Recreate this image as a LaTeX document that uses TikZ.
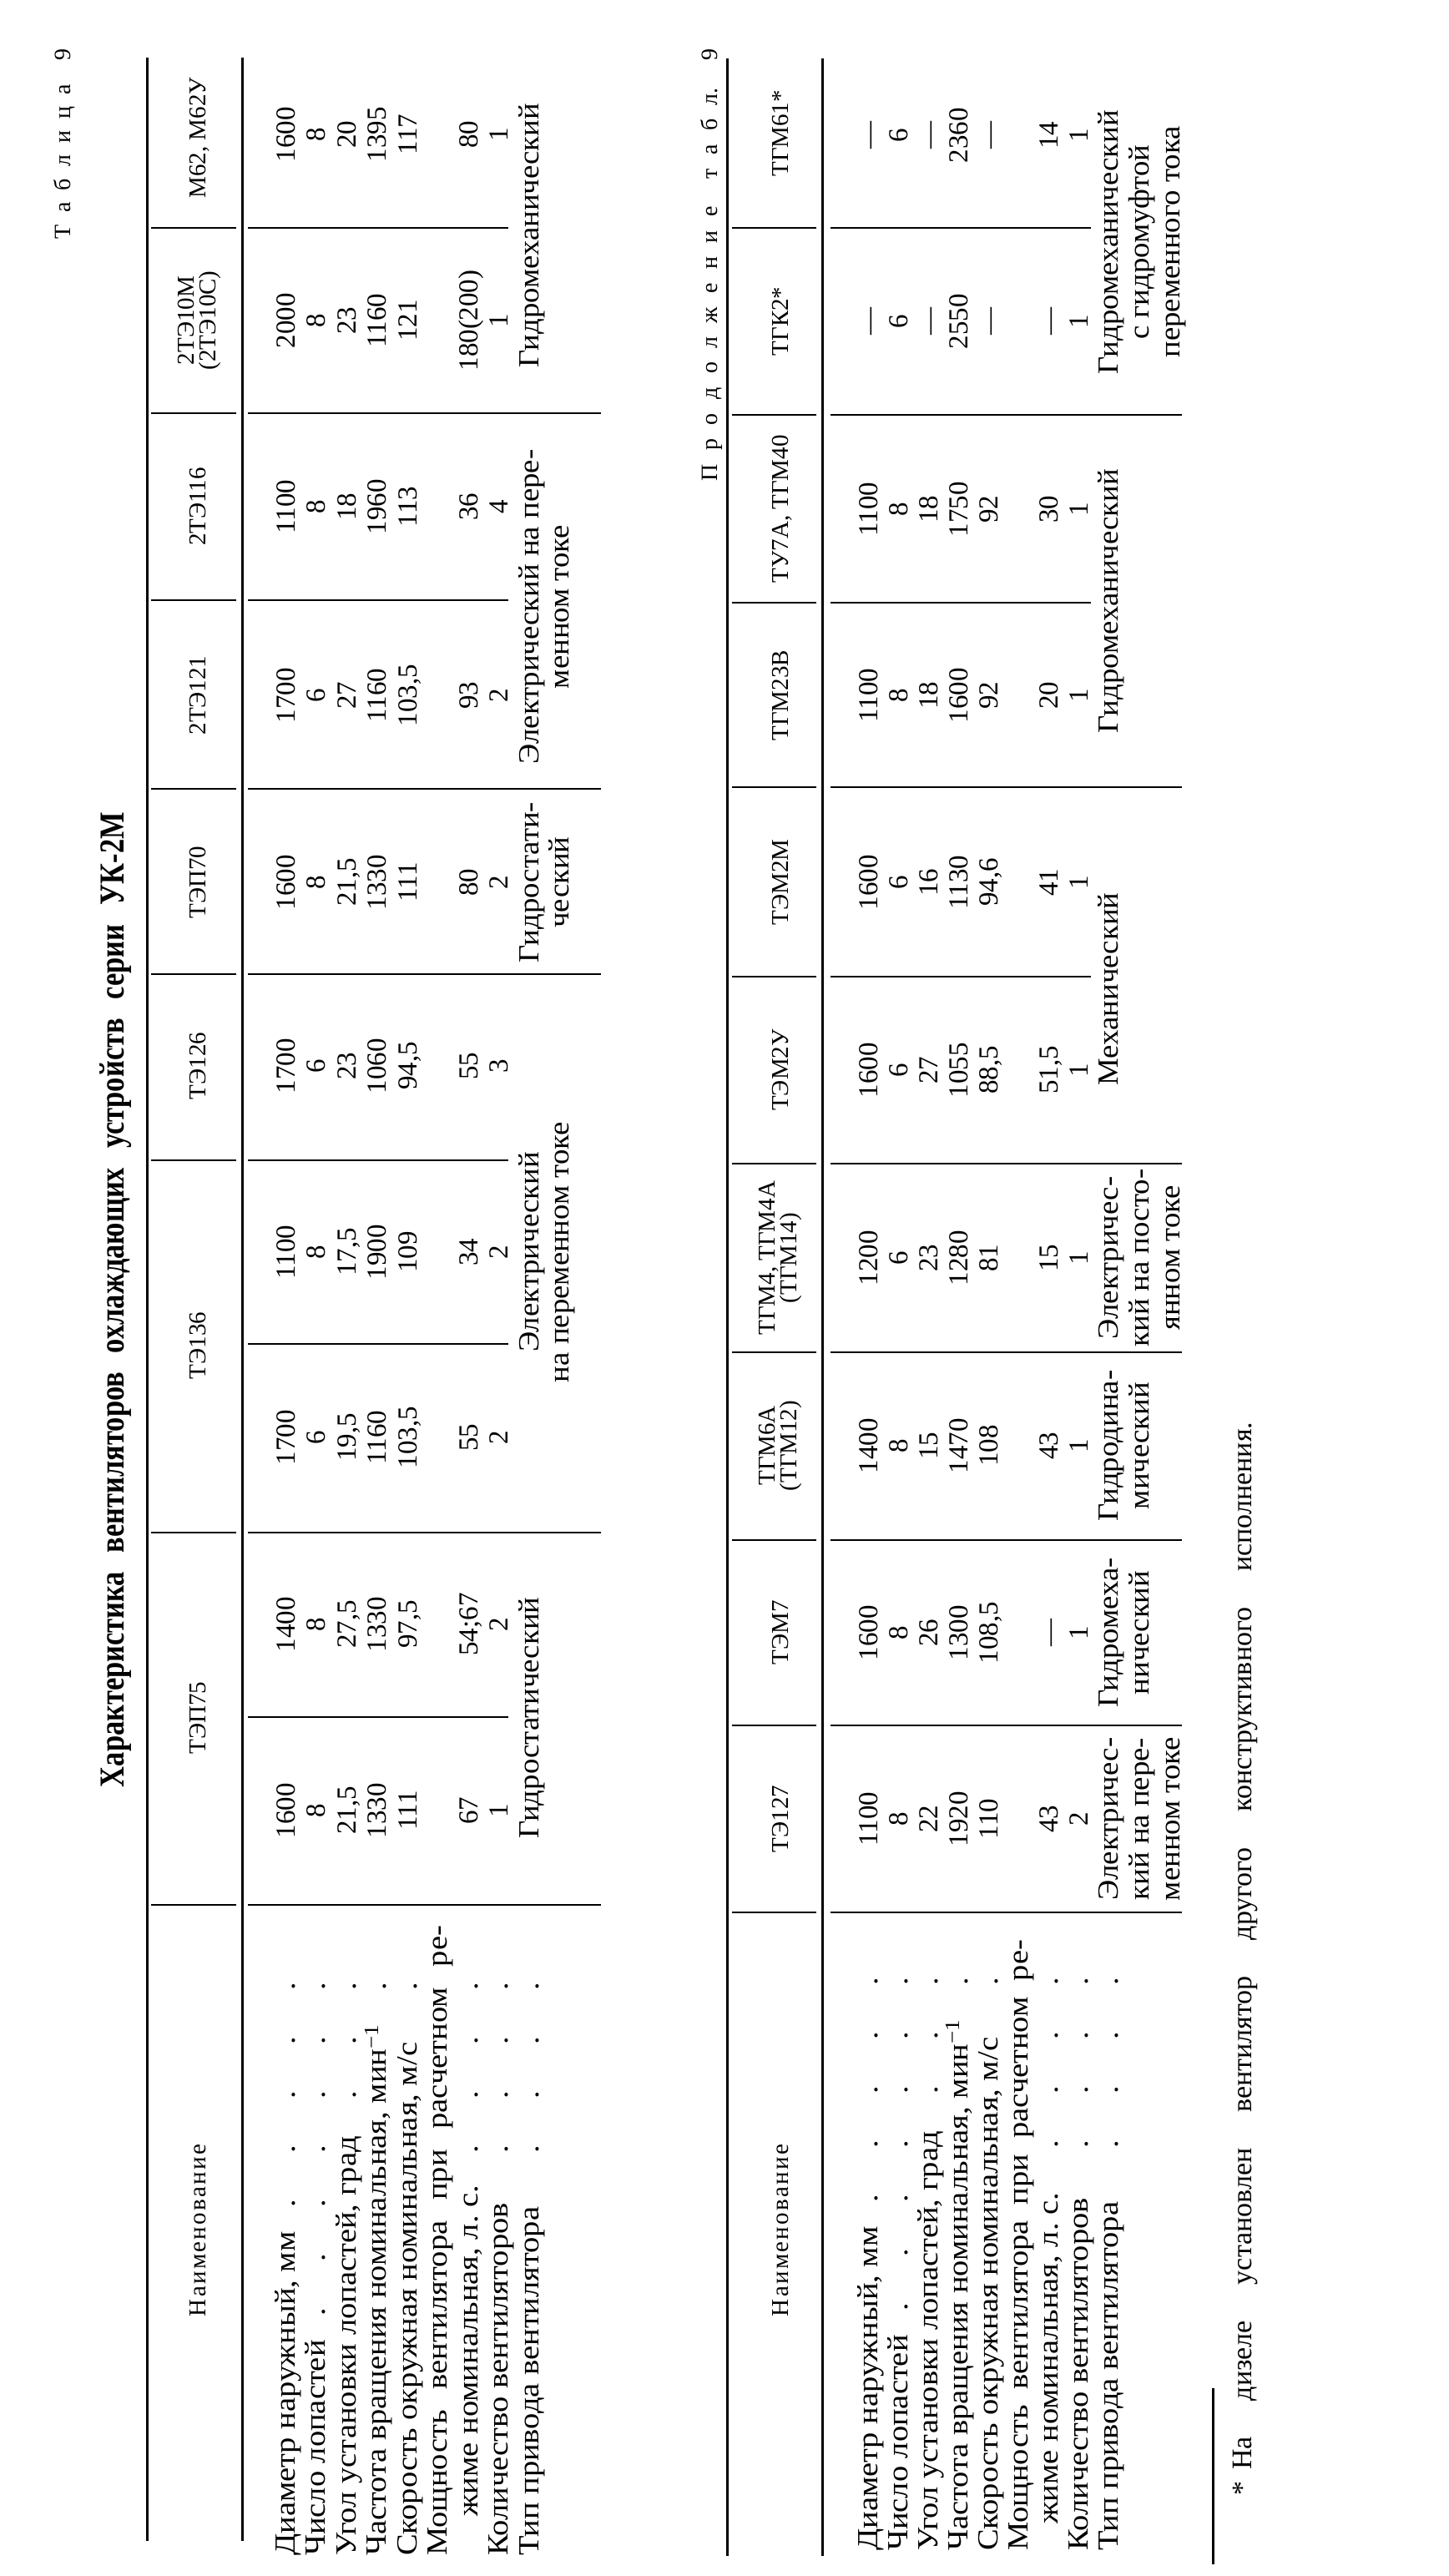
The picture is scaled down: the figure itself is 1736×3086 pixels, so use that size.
\documentclass[tikz,border=0pt]{standalone}
\usepackage{fontspec}
\setmainfont{Liberation Serif}
\newfontfamily\labf{Liberation Serif}[FakeStretch=1.1]
\newfontfamily\drvf{Liberation Serif}[FakeStretch=1.05]
\newfontfamily\ttlf{Liberation Serif}[FakeStretch=0.82]
\newcommand\dotleads{\leaders\hbox to 65pt{\hss.\hss}\hfill}
\newcommand\gp{\hfil}
% values of one column: name, first row, row pitch, y, list
\newcommand\colvals[5]{\foreach \vv [count=\ii] in {#5} {%
  \pgfmathsetmacro\rr{\ii>5 ? \ii : \ii-1}%
  \node[val] (#1-\ii) at (#2+#3*\rr,#4) {\vv};}}
% drive type lines: name, first line, line pitch, y, list
\newcommand\drvlines[5]{\foreach \dd [count=\ii] in {#5} {%
  \node[drv] (#1-\ii) at (#2+#3*\ii-#3,#4) {\dd};}}
\begin{document}
\begin{tikzpicture}[x=1pt, y=-1pt,
  rot/.style={rotate=90, inner sep=0pt, text height=24pt, text depth=0pt},
  val/.style={rot, font=\fontsize{33}{36}\selectfont},
  lab/.style={rot, anchor=west, font=\labf\fontsize{35}{36}\selectfont},
  drv/.style={rot, font=\drvf\fontsize{35}{36}\selectfont},
  hdr/.style={rot, font=\fontsize{29}{29}\selectfont},
  capt/.style={rot, anchor=east, font=\fontsize{28}{28}\selectfont},
  rulebold/.style={line width=3pt},
  rulethin/.style={line width=2pt}]
\path[use as bounding box, fill=white] (0,0) rectangle (1736,3086);
\node[capt] (tab) at (72,58) {\hbox to 228pt{Т\gp а\gp б\gp л\gp и\gp ц\gp а\gp\gp 9}};
\node[capt] (cont) at (847,58) {\hbox to 518pt{П\gp р\gp о\gp д\gp о\gp л\gp ж\gp е\gp н\gp и\gp е\gp\gp т\gp а\gp б\gp л.\gp\gp 9}};
\node[rot, font=\ttlf\bfseries\fontsize{42}{42}\selectfont] (title) at (136,1557) {\makebox[1168pt][s]{Характеристика вентиляторов охлаждающих устройств серии УК-2М}};
% table 9
\draw[rulebold] (176,69) -- (176,3044);
\draw[rulebold] (290,69) -- (290,3044);
\foreach \c/\e in {273/609, 495/720, 719/609, 945/720, 1167/720, 1390/609, 1610/609, 1836/720, 2057/609, 2282/720}
  {\draw[rulethin] (297,\c) -- (\e,\c);}
\foreach \c in {273,495,719,945,1167,1390,1836,2282}
  {\draw[rulethin] (181,\c) -- (283,\c);}
\node[hdr] (h1-m62) at (234,165) {М62, М62У};
\node[hdr] (h1-te10a) at (220,384) {2ТЭ10М};
\node[hdr] (h1-te10b) at (246,384) {(2ТЭ10С)};
\node[hdr] (h1-te116) at (234,607) {2ТЭ116};
\node[hdr] (h1-te121) at (234,833) {2ТЭ121};
\node[hdr] (h1-tep70) at (234,1057) {ТЭП70};
\node[hdr] (h1-te126) at (234,1277) {ТЭ126};
\node[hdr] (h1-te136) at (234,1612) {ТЭ136};
\node[hdr] (h1-tep75) at (234,2058) {ТЭП75};
\node[hdr] (h1-name) at (234,2672) {\hbox to 206pt{Н\gp а\gp и\gp м\gp е\gp н\gp о\gp в\gp а\gp н\gp и\gp е}};
\colvals{v-tep75a}{341}{36.5}{2169}{1600,8,{21,5},1330,111,67,1}
\colvals{v-tep75b}{341}{36.5}{1946}{1400,8,{27,5},1330,{97,5},54;67,2}
\colvals{v-te136a}{341}{36.5}{1722}{1700,6,{19,5},1160,{103,5},55,2}
\colvals{v-te136b}{341}{36.5}{1500}{1100,8,{17,5},1900,109,34,2}
\colvals{v-te126}{341}{36.5}{1277}{1700,6,23,1060,{94,5},55,3}
\colvals{v-tep70}{341}{36.5}{1057}{1600,8,{21,5},1330,111,80,2}
\colvals{v-te121}{341}{36.5}{833}{1700,6,27,1160,{103,5},93,2}
\colvals{v-te116}{341}{36.5}{607}{1100,8,18,1960,113,36,4}
\colvals{v-te10}{341}{36.5}{384}{2000,8,23,1160,121,180(200),1}
\colvals{v-m62}{341}{36.5}{161}{1600,8,20,1395,117,80,1}
\drvlines{d-tep75}{633}{36.5}{2058}{Гидростатический}
\drvlines{d-te136}{633}{36.5}{1500}{Электрический, на переменном токе}
\drvlines{d-tep70}{633}{36.5}{1057}{Гидростати-, ческий}
\drvlines{d-te121}{633}{36.5}{727}{Электрический на пере-, менном токе}
\drvlines{d-m62}{633}{36.5}{282}{Гидромеханический}
% continuation
\draw[rulebold] (871,70) -- (871,3062);
\draw[rulebold] (985,70) -- (985,3062);
\foreach \c/\e in {273/1307, 497/1416, 722/1307, 943/1416, 1170/1307, 1394/1416, 1620/1416, 1845/1416, 2067/1416, 2291/1416}
  {\draw[rulethin] (995,\c) -- (\e,\c);
   \draw[rulethin] (877,\c) -- (978,\c);}
\node[hdr] (h2-tgm61) at (932,160) {ТГМ61*};
\node[hdr] (h2-tgk2) at (932,385) {ТГК2*};
\node[hdr] (h2-tu7a) at (932,610) {ТУ7А, ТГМ40};
\node[hdr] (h2-tgm23) at (932,833) {ТГМ23В};
\node[hdr] (h2-tem2m) at (932,1057) {ТЭМ2М};
\node[hdr] (h2-tem2u) at (932,1282) {ТЭМ2У};
\node[hdr] (h2-tgm4a) at (916,1507) {ТГМ4, ТГМ4А};
\node[hdr] (h2-tgm4b) at (942,1507) {(ТГМ14)};
\node[hdr] (h2-tgm6a) at (916,1732) {ТГМ6А};
\node[hdr] (h2-tgm6b) at (942,1732) {(ТГМ12)};
\node[hdr] (h2-tem7) at (932,1956) {ТЭМ7};
\node[hdr] (h2-te127) at (932,2179) {ТЭ127};
\node[hdr] (h2-name) at (932,2672) {\hbox to 206pt{Н\gp а\gp и\gp м\gp е\gp н\gp о\gp в\gp а\gp н\gp и\gp е}};
\colvals{v-te127}{1039}{36}{2179}{1100,8,22,1920,110,43,2}
\colvals{v-tem7}{1039}{36}{1956}{1600,8,26,1300,{108,5},---,1}
\colvals{v-tgm6}{1039}{36}{1732}{1400,8,15,1470,108,43,1}
\colvals{v-tgm4}{1039}{36}{1507}{1200,6,23,1280,81,15,1}
\colvals{v-tem2u}{1039}{36}{1282}{1600,6,27,1055,{88,5},{51,5},1}
\colvals{v-tem2m}{1039}{36}{1057}{1600,6,16,1130,{94,6},41,1}
\colvals{v-tgm23}{1039}{36}{833}{1100,8,18,1600,92,20,1}
\colvals{v-tu7a}{1039}{36}{610}{1100,8,18,1750,92,30,1}
\colvals{v-tgk2}{1039}{36}{385}{---,6,---,2550,---,---,1}
\colvals{v-tgm61}{1039}{36}{162}{---,6,---,2360,---,14,1}
\drvlines{d-te127}{1327}{37}{2179}{Электричес-, кий на пере-, менном токе}
\drvlines{d-tem7}{1327}{37}{1956}{Гидромеха-, нический}
\drvlines{d-tgm6}{1327}{37}{1732}{Гидродина-, мический}
\drvlines{d-tgm4}{1327}{37}{1507}{Электричес-, кий на посто-, янном токе}
\drvlines{d-tem2}{1327}{37}{1185}{Механический}
\drvlines{d-tgm23}{1327}{37}{720}{Гидромеханический}
\drvlines{d-tgm61}{1327}{37}{290}{Гидромеханический, с гидромуфтой, переменного тока}
% row names, both tables
\foreach \xo/\pt/\ys/\lw/\ind [count=\tb] in {341/36.5/3062/755/47, 1039/36/3056/732/32}
  {\foreach \lt [count=\ii] in {{Диаметр наружный, мм\dotleads}, {Число лопастей\dotleads},
      {Угол установки лопастей, град\dotleads}, {Частота вращения номинальная, мин\textsuperscript{−1}\dotleads},
      {Скорость окружная номинальная, м/с\dotleads}, {Мощность \hfill вентилятора \hfill при \hfill расчетном \hfill ре-},
      {\hspace*{\ind pt}жиме номинальная, л.~с.\dotleads}, {Количество вентиляторов\dotleads}, {Тип привода вентилятора\dotleads}}
    {\node[lab] (l-\tb-\ii) at (\xo+\pt*\ii-\pt,\ys) {\makebox[\lw pt][l]{\lt}};}}
\draw[rulebold] (1453,2861) -- (1453,3072);
\node[rot, anchor=west, font=\fontsize{34}{34}\selectfont] (foot) at (1487,2990) {*\hspace{14pt}\makebox[1255pt][s]{На дизеле установлен вентилятор другого конструктивного исполнения.}};
\end{tikzpicture}
\end{document}
